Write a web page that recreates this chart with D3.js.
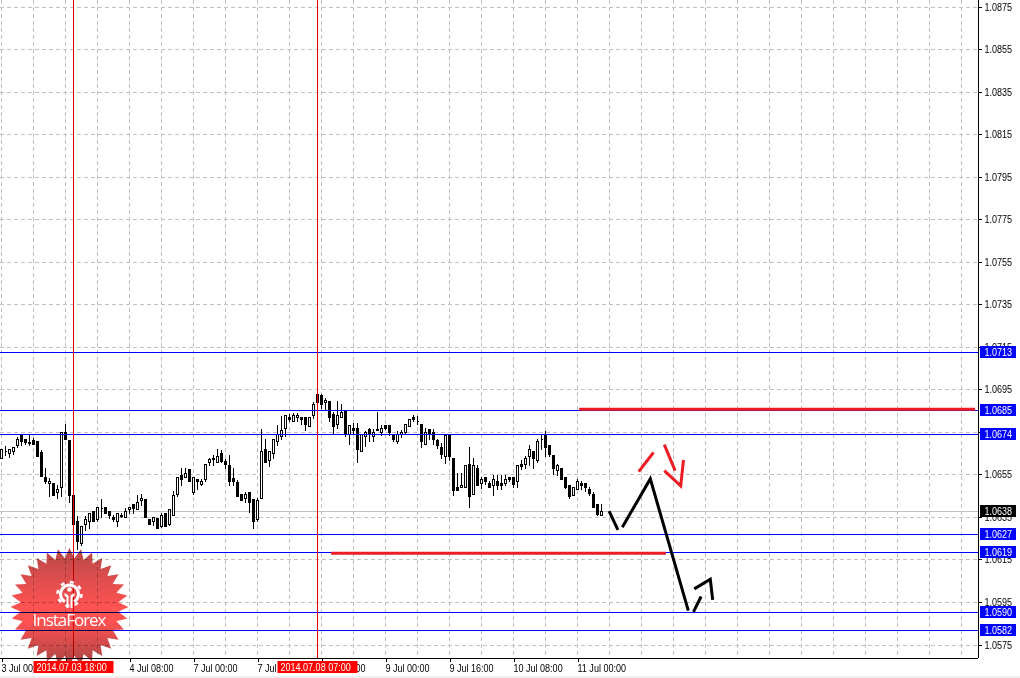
<!DOCTYPE html>
<html>
<head>
<meta charset="utf-8">
<script src="https://cdnjs.cloudflare.com/ajax/libs/d3/7.8.5/d3.min.js"></script>
<style>
  html, body { margin: 0; padding: 0; background: #fff; }
  svg { display: block; }
  text { font-family: "Liberation Sans", sans-serif; font-size: 11px; }
</style>
</head>
<body>
<svg id="area" width="1020" height="678"></svg>
<script>
// EURUSD-like H1 candles, one entry per bar, starting 3 Jul 00:00
const opens = [1.06626,1.06658,1.06651,1.06658,1.06686,1.06733,1.06717,1.06701,1.06711,1.06708,1.06654,1.06538,1.06509,1.06510,1.06466,1.06491,1.06750,1.06711,1.06451,1.06333,1.06228,1.06317,1.06330,1.06379,1.06341,1.06390,1.06397,1.06379,1.06350,1.06330,1.06356,1.06349,1.06386,1.06413,1.06386,1.06429,1.06432,1.06341,1.06332,1.06344,1.06306,1.06369,1.06317,1.06360,1.06457,1.06548,1.06538,1.06573,1.06468,1.06529,1.06507,1.06526,1.06607,1.06620,1.06607,1.06651,1.06611,1.06592,1.06531,1.06512,1.06458,1.06438,1.06468,1.06432,1.06341,1.06440,1.06670,1.06617,1.06651,1.06705,1.06730,1.06769,1.06821,1.06800,1.06821,1.06821,1.06821,1.06777,1.06830,1.06930,1.06921,1.06889,1.06893,1.06833,1.06786,1.06819,1.06852,1.06742,1.06769,1.06769,1.06659,1.06730,1.06761,1.06730,1.06761,1.06748,1.06780,1.06780,1.06737,1.06705,1.06742,1.06748,1.06777,1.06822,1.06802,1.06789,1.06695,1.06761,1.06750,1.06711,1.06681,1.06636,1.06739,1.06628,1.06491,1.06491,1.06491,1.06600,1.06457,1.06582,1.06510,1.06538,1.06510,1.06498,1.06520,1.06510,1.06510,1.06538,1.06538,1.06518,1.06601,1.06600,1.06636,1.06661,1.06617,1.06717,1.06733,1.06689,1.06639,1.06570,1.06582,1.06538,1.06501,1.06455,1.06482,1.06510,1.06510,1.06479,1.06459,1.06412,1.06360];
const highs = [1.06670,1.06683,1.06670,1.06680,1.06726,1.06733,1.06717,1.06733,1.06722,1.06708,1.06664,1.06581,1.06534,1.06510,1.06498,1.06748,1.06789,1.06711,1.06451,1.06353,1.06306,1.06353,1.06369,1.06379,1.06397,1.06432,1.06397,1.06379,1.06361,1.06369,1.06369,1.06393,1.06397,1.06413,1.06451,1.06460,1.06432,1.06341,1.06350,1.06344,1.06369,1.06369,1.06388,1.06471,1.06538,1.06581,1.06581,1.06573,1.06538,1.06529,1.06529,1.06600,1.06628,1.06639,1.06670,1.06664,1.06623,1.06639,1.06581,1.06523,1.06458,1.06466,1.06468,1.06432,1.06440,1.06761,1.06717,1.06661,1.06717,1.06780,1.06824,1.06830,1.06836,1.06839,1.06839,1.06821,1.06821,1.06821,1.06889,1.06930,1.06930,1.06910,1.06893,1.06844,1.06893,1.06883,1.06852,1.06780,1.06792,1.06792,1.06742,1.06753,1.06769,1.06761,1.06842,1.06780,1.06784,1.06780,1.06737,1.06753,1.06758,1.06789,1.06811,1.06827,1.06824,1.06789,1.06769,1.06761,1.06761,1.06717,1.06698,1.06741,1.06739,1.06628,1.06557,1.06557,1.06592,1.06680,1.06628,1.06592,1.06538,1.06538,1.06518,1.06545,1.06549,1.06549,1.06549,1.06538,1.06538,1.06592,1.06617,1.06636,1.06690,1.06661,1.06717,1.06733,1.06752,1.06689,1.06639,1.06601,1.06582,1.06538,1.06501,1.06491,1.06529,1.06518,1.06510,1.06491,1.06466,1.06412,1.06413];
const lows = [1.06626,1.06643,1.06632,1.06648,1.06678,1.06687,1.06694,1.06687,1.06695,1.06636,1.06542,1.06510,1.06448,1.06455,1.06438,1.06448,1.06714,1.06419,1.06316,1.06197,1.06220,1.06288,1.06299,1.06330,1.06330,1.06349,1.06368,1.06346,1.06330,1.06306,1.06350,1.06349,1.06366,1.06369,1.06386,1.06408,1.06349,1.06316,1.06314,1.06297,1.06303,1.06306,1.06310,1.06360,1.06448,1.06502,1.06538,1.06518,1.06458,1.06479,1.06498,1.06518,1.06596,1.06596,1.06607,1.06607,1.06581,1.06498,1.06498,1.06447,1.06429,1.06419,1.06375,1.06299,1.06330,1.06440,1.06607,1.06589,1.06626,1.06690,1.06717,1.06730,1.06800,1.06800,1.06800,1.06786,1.06758,1.06777,1.06817,1.06889,1.06861,1.06855,1.06800,1.06742,1.06767,1.06819,1.06730,1.06695,1.06745,1.06607,1.06659,1.06683,1.06706,1.06706,1.06758,1.06737,1.06761,1.06737,1.06706,1.06698,1.06726,1.06745,1.06777,1.06800,1.06786,1.06678,1.06695,1.06714,1.06694,1.06675,1.06628,1.06604,1.06617,1.06455,1.06476,1.06491,1.06491,1.06396,1.06457,1.06498,1.06487,1.06507,1.06490,1.06455,1.06479,1.06479,1.06498,1.06517,1.06491,1.06491,1.06576,1.06582,1.06592,1.06581,1.06609,1.06667,1.06636,1.06636,1.06554,1.06545,1.06526,1.06487,1.06438,1.06455,1.06479,1.06482,1.06473,1.06455,1.06396,1.06357,1.06360];
const closes = [1.06670,1.06659,1.06670,1.06680,1.06717,1.06706,1.06701,1.06698,1.06695,1.06636,1.06542,1.06518,1.06521,1.06455,1.06479,1.06748,1.06714,1.06455,1.06316,1.06236,1.06306,1.06341,1.06369,1.06330,1.06397,1.06391,1.06368,1.06357,1.06338,1.06369,1.06357,1.06380,1.06397,1.06394,1.06421,1.06440,1.06349,1.06316,1.06350,1.06297,1.06361,1.06306,1.06388,1.06451,1.06538,1.06526,1.06557,1.06518,1.06538,1.06518,1.06518,1.06600,1.06620,1.06626,1.06637,1.06615,1.06598,1.06518,1.06518,1.06447,1.06429,1.06458,1.06419,1.06330,1.06430,1.06661,1.06607,1.06661,1.06717,1.06741,1.06759,1.06830,1.06809,1.06830,1.06830,1.06808,1.06786,1.06821,1.06883,1.06889,1.06880,1.06902,1.06819,1.06777,1.06830,1.06841,1.06742,1.06780,1.06758,1.06670,1.06742,1.06750,1.06742,1.06750,1.06760,1.06769,1.06767,1.06748,1.06714,1.06742,1.06750,1.06789,1.06811,1.06808,1.06801,1.06706,1.06750,1.06741,1.06714,1.06687,1.06648,1.06733,1.06636,1.06476,1.06476,1.06501,1.06592,1.06448,1.06592,1.06498,1.06529,1.06517,1.06490,1.06526,1.06498,1.06498,1.06529,1.06526,1.06507,1.06592,1.06589,1.06629,1.06670,1.06626,1.06709,1.06718,1.06678,1.06648,1.06581,1.06592,1.06526,1.06491,1.06448,1.06491,1.06520,1.06498,1.06490,1.06463,1.06396,1.06365,1.06377];

const priceTicks = [1.0875,1.0855,1.0835,1.0815,1.0795,1.0775,1.0755,1.0735,1.0715,1.0695,1.0675,1.0655,1.0635,1.0615,1.0595,1.0575];
const timeTickBars = [0,16,32,48,64,80,96,112,128,144];
const timeTickLabels = ['3 Jul 00:00','3 Jul 16:00','4 Jul 08:00','7 Jul 00:00','7 Jul 16:00','8 Jul 08:00','9 Jul 00:00','9 Jul 16:00','10 Jul 08:00','11 Jul 00:00'];
const gridBars = d3.range(0, 241, 8);

// horizontal levels from the analysis
const levels = [1.07126,1.06854,1.0674,1.0627,1.06186,1.05904,1.05818];
const lastPrice = 1.06377;

// crosshairs: bar number and its date stamp
const crossBars = [18,79];
const crossLabels = ['2014.07.03 18:00','2014.07.08 07:00'];

// hand-drawn forecast, [bar, price] points
const blackStrokes = [
  [[151.9,1.06380],[154.1,1.06291]],
  [[155.2,1.06304],[162.2,1.06531],[171.7,1.05912]],
  [[173.0,1.05906],[174.9,1.05978]],
  [[173.2,1.06014],[177.2,1.06059],[177.8,1.05962]]
];
const redStrokes = [
  [[144.4,1.06859],[243.4,1.06859]],
  [[82.4,1.06182],[166.1,1.06182]],
  [[159.3,1.06565],[163.0,1.06655]],
  [[165.7,1.06692],[168.4,1.06570]],
  [[165.7,1.06570],[169.8,1.06498],[170.5,1.06620]]
];

const svg = d3.select('#area');
const right = 978;
const bottom = 658;

const x = d3.scaleLinear([0, 240], [1.5, 961.5]);
const y = d3.scaleLinear([1.0875, 1.0575], [7, 645]);
const row = (p) => Math.floor(y(p)) + 0.5;

// the terminal font is narrower than what is installed
function squeeze(sel) {
  sel.each(function () {
    d3.select(this)
      .attr('lengthAdjust', 'spacingAndGlyphs')
      .attr('textLength', this.getComputedTextLength() * 0.82);
  });
}

svg.append('rect').attr('x', 0).attr('y', 676).attr('width', 1020).attr('height', 2).attr('fill', '#f0f0f0');

// grid
const grid = svg.append('g')
  .attr('stroke', '#c0c0c0')
  .attr('stroke-dasharray', '4,3')
  .attr('shape-rendering', 'crispEdges');
grid.selectAll('.h')
  .data(priceTicks)
  .join('line')
  .attr('x1', 0)
  .attr('x2', right)
  .attr('y1', row)
  .attr('y2', row);
grid.selectAll('.v')
  .data(gridBars)
  .join('line')
  .attr('x1', (d) => x(d))
  .attr('x2', (d) => x(d))
  .attr('y1', 0)
  .attr('y2', bottom);

// last price
svg.append('line')
  .attr('x1', 0)
  .attr('x2', right)
  .attr('y1', row(lastPrice))
  .attr('y2', row(lastPrice))
  .attr('stroke', '#c0c0c0')
  .attr('shape-rendering', 'crispEdges');

// candles
const bars = svg.append('g')
  .attr('shape-rendering', 'crispEdges')
  .selectAll('g')
  .data(opens.map((o, i) => i))
  .join('g');
bars.append('line')
  .attr('x1', (i) => x(i))
  .attr('x2', (i) => x(i))
  .attr('y1', (i) => Math.floor(y(highs[i])))
  .attr('y2', (i) => Math.floor(y(lows[i])) + 1)
  .attr('stroke', '#000');
bars.append('path')
  .attr('d', (i) => {
    const top = row(Math.max(opens[i], closes[i]));
    const bot = row(Math.min(opens[i], closes[i]));
    return `M${x(i) - 1},${top}h2V${bot}h-2Z`;
  })
  .attr('fill', (i) => (closes[i] >= opens[i] ? '#fff' : '#000'))
  .attr('stroke', '#000');

// levels
svg.append('g')
  .attr('stroke', '#0000ff')
  .attr('shape-rendering', 'crispEdges')
  .selectAll('line')
  .data(levels)
  .join('line')
  .attr('x1', 0)
  .attr('x2', right)
  .attr('y1', row)
  .attr('y2', row);

// crosshair lines
svg.append('g')
  .attr('stroke', '#e00000')
  .attr('shape-rendering', 'crispEdges')
  .selectAll('line')
  .data(crossBars)
  .join('line')
  .attr('x1', (d) => x(d))
  .attr('x2', (d) => x(d))
  .attr('y1', 0)
  .attr('y2', bottom);

// forecast strokes
const strokeLine = d3.line().x((d) => x(d[0])).y((d) => y(d[1]));
svg.append('g')
  .attr('fill', 'none')
  .attr('stroke', '#ed1c24')
  .attr('stroke-width', 3)
  .selectAll('path')
  .data(redStrokes)
  .join('path')
  .attr('d', strokeLine);
svg.append('g')
  .attr('fill', 'none')
  .attr('stroke', '#000')
  .attr('stroke-width', 3)
  .selectAll('path')
  .data(blackStrokes)
  .join('path')
  .attr('d', strokeLine);

// logo
const defs = svg.append('defs');
const grad = defs.append('linearGradient')
  .attr('id', 'badge')
  .attr('x1', 0).attr('x2', 0).attr('y1', 0).attr('y2', 1);
grad.append('stop').attr('offset', '0%').attr('stop-color', '#b84848');
grad.append('stop').attr('offset', '50%').attr('stop-color', '#ff5252');
grad.append('stop').attr('offset', '62%').attr('stop-color', '#ff5252');
grad.append('stop').attr('offset', '100%').attr('stop-color', '#a84444');

const teeth = 32;
const burst = d3.lineRadial()
  .angle((d) => (d * Math.PI) / teeth)
  .radius((d) => (d % 2 ? 49 : 59))
  .curve(d3.curveLinearClosed);
const logo = svg.append('g').attr('transform', 'translate(69.5,607)');
logo.append('path')
  .attr('d', burst(d3.range(teeth * 2)))
  .attr('fill', 'url(#badge)')
  .style('mix-blend-mode', 'multiply');
const arc = d3.arc().innerRadius(7.5).outerRadius(10.5);
logo.append('path')
  .attr('transform', 'translate(0,-13)')
  .attr('d', arc({ startAngle: -2.6, endAngle: 2.6 }))
  .attr('fill', '#fff');
logo.append('circle')
  .attr('cy', -13)
  .attr('r', 12)
  .attr('fill', 'none')
  .attr('stroke', '#fff')
  .attr('stroke-width', 2.5)
  .attr('stroke-dasharray', '4,5.42');
logo.append('circle').attr('cy', -17.5).attr('r', 2.3).attr('fill', '#fff');
logo.append('path').attr('d', 'M-5,-14L-1,-11.5V1H-3V-9.5L-5,-11.5ZM5,-14L1,-11.5V1H3V-9.5L5,-11.5Z').attr('fill', '#fff');
logo.append('text')
  .attr('y', 19)
  .attr('text-anchor', 'middle')
  .attr('fill', '#fff')
  .attr('textLength', 74)
  .style('font-family', '"Open Sans", sans-serif')
  .style('font-size', '17px')
  .text('InstaForex');

// axes
const yAxis = d3.axisRight(y)
  .tickValues(priceTicks)
  .tickFormat(d3.format('.4f'))
  .tickSize(3)
  .tickSizeOuter(0);
const yG = svg.append('g')
  .attr('transform', `translate(${right + 0.5},0)`)
  .attr('shape-rendering', 'crispEdges')
  .call(yAxis);
yG.selectAll('.tick').attr('transform', (d) => `translate(0,${row(d)})`);
yG.select('.domain').attr('d', `M0,0V${bottom}`).attr('stroke', '#000');
yG.selectAll('text').attr('x', 6).attr('fill', '#000').call(squeeze);

const xAxis = d3.axisBottom(x)
  .tickValues(timeTickBars)
  .tickFormat((d, i) => timeTickLabels[i])
  .tickSize(3)
  .tickSizeOuter(0);
const xG = svg.append('g')
  .attr('transform', `translate(0,${bottom + 0.5})`)
  .attr('shape-rendering', 'crispEdges')
  .call(xAxis);
xG.select('.domain').attr('d', `M0,0H${right}`).attr('stroke', '#000');
xG.selectAll('text')
  .attr('text-anchor', 'start')
  .attr('x', -0.5)
  .attr('y', 6)
  .attr('dy', '0.71em')
  .attr('fill', '#000')
  .call(squeeze);

// price tags on the axis
const tagPrices = levels.map((d) => ({ p: d, c: '#0000ff' })).concat([{ p: lastPrice, c: '#000' }]);
const tags = svg.append('g').selectAll('g').data(tagPrices).join('g');
tags.append('rect')
  .attr('x', 980)
  .attr('y', (d) => row(d.p) - 6.5)
  .attr('width', 36)
  .attr('height', 12)
  .attr('fill', (d) => d.c);
tags.append('text')
  .attr('x', 984.5)
  .attr('y', (d) => row(d.p) + 3.5)
  .attr('fill', '#fff')
  .text((d) => d3.format('.4f')(d.p))
  .call(squeeze);

// date stamps
const stamps = svg.append('g').selectAll('g').data(crossBars).join('g');
stamps.append('rect')
  .attr('x', (d) => x(d) - 40)
  .attr('y', 661)
  .attr('width', 80)
  .attr('height', 12)
  .attr('fill', '#ff0000');
stamps.append('text')
  .attr('x', (d) => x(d) - 37)
  .attr('y', 671)
  .attr('fill', '#fff')
  .text((d, i) => crossLabels[i])
  .call(squeeze);
</script>
</body>
</html>
